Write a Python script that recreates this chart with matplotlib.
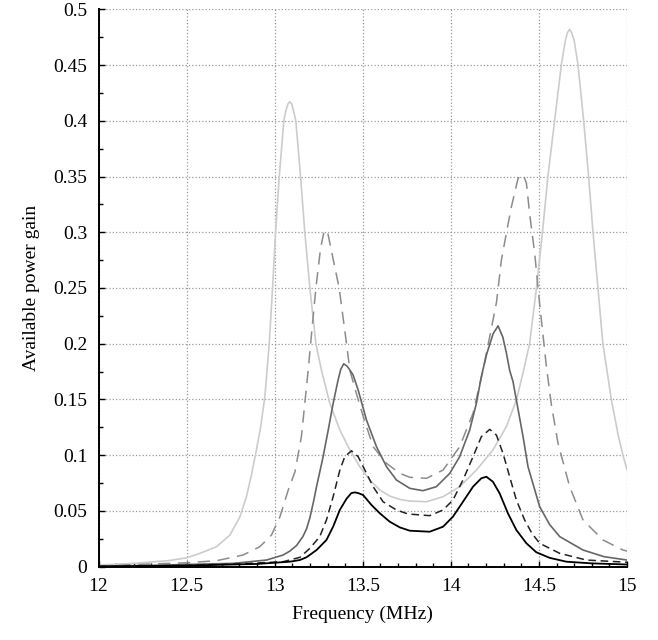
import numpy as np
import matplotlib
matplotlib.use('Agg')
import matplotlib.pyplot as plt
from matplotlib.ticker import MultipleLocator, FormatStrFormatter

plt.rcParams['font.family'] = ['Liberation Serif', 'DejaVu Serif']

# light gray solid
f_a = [12.0, 12.2, 12.4, 12.5, 12.576, 12.67, 12.746, 12.803, 12.84, 12.869, 12.893, 12.92,
       12.944, 12.969, 12.988, 13.005, 13.026, 13.052, 13.062, 13.075, 13.086, 13.097, 13.11,
       13.12, 13.147, 13.171, 13.2, 13.234, 13.266, 13.313, 13.37, 13.427, 13.483, 13.54,
       13.597, 13.653, 13.71, 13.767, 13.862, 13.956, 14.05, 14.145, 14.239, 14.315, 14.372,
       14.41, 14.447, 14.486, 14.52, 14.551, 14.589, 14.627, 14.65, 14.662, 14.674, 14.686,
       14.70, 14.722, 14.754, 14.782, 14.807, 14.835, 14.863, 14.911, 14.95, 14.977, 15.0]
g_a = [0.0015, 0.003, 0.0055, 0.008, 0.012, 0.018, 0.0284, 0.0449, 0.0628, 0.083, 0.102, 0.125,
       0.152, 0.2, 0.25, 0.3, 0.35, 0.4, 0.408, 0.415, 0.417, 0.415, 0.407,
       0.4, 0.35, 0.3, 0.25, 0.2, 0.176, 0.1466, 0.1226, 0.1047, 0.0897, 0.0778,
       0.0688, 0.0634, 0.0604, 0.0589, 0.0583, 0.0628, 0.0718, 0.0867, 0.1047, 0.1256, 0.1495,
       0.174, 0.2, 0.25, 0.3, 0.35, 0.4, 0.45, 0.472, 0.479, 0.482, 0.479,
       0.472, 0.45, 0.4, 0.35, 0.3, 0.25, 0.2, 0.15, 0.118, 0.1, 0.087]

# gray dashed
f_b = [12.0, 12.3, 12.5, 12.67, 12.821, 12.916, 12.982, 13.03, 13.077, 13.115, 13.152, 13.19,
       13.204, 13.234, 13.26, 13.278, 13.29, 13.302, 13.32, 13.366, 13.408, 13.427, 13.47,
       13.502, 13.559, 13.635, 13.71, 13.767, 13.862, 13.956, 14.05, 14.126, 14.183, 14.259,
       14.287, 14.315, 14.344, 14.381, 14.40, 14.415, 14.429, 14.447, 14.476, 14.504, 14.542,
       14.571, 14.608, 14.674, 14.75, 14.863, 14.977, 15.0]
g_b = [0.0005, 0.0025, 0.0035, 0.0054, 0.0105, 0.018, 0.0284, 0.0449, 0.0688, 0.085, 0.117, 0.176,
       0.2, 0.25, 0.285, 0.299, 0.302, 0.299, 0.285, 0.25, 0.2, 0.176, 0.152,
       0.135, 0.1076, 0.0927, 0.0838, 0.0802, 0.0793, 0.0867, 0.1076, 0.1376, 0.1764, 0.237,
       0.275, 0.299, 0.323, 0.348, 0.352, 0.35, 0.344, 0.317, 0.281, 0.236, 0.18,
       0.145, 0.111, 0.072, 0.042, 0.024, 0.015, 0.014]

# mid gray solid
f_c = [12.0, 12.3, 12.5, 12.765, 12.954, 13.048, 13.086, 13.124, 13.16, 13.181, 13.2, 13.22,
       13.238, 13.275, 13.304, 13.332, 13.36, 13.375, 13.392, 13.41, 13.42, 13.445, 13.474,
       13.521, 13.578, 13.635, 13.691, 13.767, 13.842, 13.918, 13.994, 14.05, 14.107, 14.145,
       14.173, 14.202, 14.24, 14.268, 14.295, 14.315, 14.334, 14.353, 14.372, 14.41, 14.438,
       14.504, 14.56, 14.618, 14.75, 14.87, 15.0]
g_c = [0.0005, 0.0012, 0.002, 0.003, 0.006, 0.0105, 0.014, 0.019, 0.027, 0.034, 0.044, 0.058,
       0.072, 0.0987, 0.1226, 0.1466, 0.1675, 0.177, 0.182, 0.18, 0.178, 0.172, 0.1585,
       0.1316, 0.1076, 0.0897, 0.0778, 0.0703, 0.0682, 0.0718, 0.0838, 0.0987, 0.1226, 0.1466,
       0.1704, 0.19, 0.209, 0.216, 0.206, 0.192, 0.176, 0.166, 0.1495, 0.1166, 0.0897,
       0.054, 0.038, 0.027, 0.015, 0.009, 0.006]

# black dashed
f_d = [12.0, 12.5, 12.8, 13.048, 13.143, 13.2, 13.256, 13.294, 13.332, 13.37, 13.398, 13.436,
       13.474, 13.512, 13.559, 13.615, 13.691, 13.757, 13.88, 13.956, 14.012, 14.069, 14.126,
       14.173, 14.221, 14.259, 14.296, 14.334, 14.372, 14.419, 14.46, 14.504, 14.618, 14.769,
       15.0]
g_d = [0.0003, 0.0012, 0.0025, 0.0045, 0.0084, 0.0165, 0.027, 0.042, 0.0628, 0.0867, 0.0987, 0.104,
       0.0987, 0.0867, 0.0718, 0.0583, 0.0509, 0.0473, 0.0458, 0.0509, 0.0598, 0.0778, 0.0987,
       0.1166, 0.1232, 0.118, 0.1017, 0.0807, 0.0598, 0.0419, 0.03, 0.021, 0.012, 0.006,
       0.004]

# black solid
f_e = [12.0, 12.5, 12.9, 13.086, 13.143, 13.181, 13.238, 13.294, 13.332, 13.37, 13.408, 13.435,
       13.455, 13.475, 13.502, 13.55, 13.597, 13.653, 13.71, 13.767, 13.88, 13.956, 14.012,
       14.069, 14.126, 14.173, 14.202, 14.239, 14.277, 14.324, 14.372, 14.429, 14.485, 14.56,
       14.656, 14.8, 15.0]
g_e = [0.0002, 0.001, 0.0025, 0.0045, 0.006, 0.0085, 0.015, 0.024, 0.036, 0.051, 0.061, 0.066,
       0.0667, 0.066, 0.0643, 0.0553, 0.0479, 0.0404, 0.0353, 0.0323, 0.0314, 0.0359, 0.0449,
       0.0583, 0.0718, 0.0793, 0.0807, 0.0762, 0.0658, 0.0479, 0.0329, 0.021, 0.013, 0.008,
       0.0045, 0.003, 0.002]

fig = plt.figure(figsize=(6.58, 6.40), dpi=100)
ax = fig.add_axes([0.1497, 0.1145, 0.8032, 0.871])

ax.plot(f_a, g_a, color='#cccccc', lw=1.2)
ax.plot(f_b, g_b, color='#8c8c8c', lw=1.1, dashes=(8, 5))
ax.plot(f_c, g_c, color='#666666', lw=1.2)
ax.plot(f_d, g_d, color='#222222', lw=1.1, dashes=(5, 3))
ax.plot(f_e, g_e, color='black', lw=1.3)

ax.set_xlim(12, 15)
ax.set_ylim(0, 0.5)
ax.xaxis.set_major_locator(MultipleLocator(0.5))
ax.xaxis.set_minor_locator(MultipleLocator(0.1))
ax.yaxis.set_major_locator(MultipleLocator(0.05))
ax.yaxis.set_minor_locator(MultipleLocator(0.025))
ax.xaxis.set_major_formatter(FormatStrFormatter('%g'))
ax.yaxis.set_major_formatter(FormatStrFormatter('%g'))
ax.grid(True, which='major', linestyle=':', color='#999999', lw=0.9)
for s in ['top', 'right']:
    ax.spines[s].set_visible(False)
for s in ['left', 'bottom']:
    ax.spines[s].set_linewidth(1.4)
ax.tick_params(which='both', direction='in', labelsize=14, width=1.0)
ax.tick_params(which='major', length=4, pad=8)
ax.tick_params(which='minor', length=3)
ax.set_xlabel('Frequency (MHz)', fontsize=14, labelpad=8)
ax.set_ylabel('Available power gain', fontsize=14, labelpad=10)

fig.savefig('out.png', dpi=100)
